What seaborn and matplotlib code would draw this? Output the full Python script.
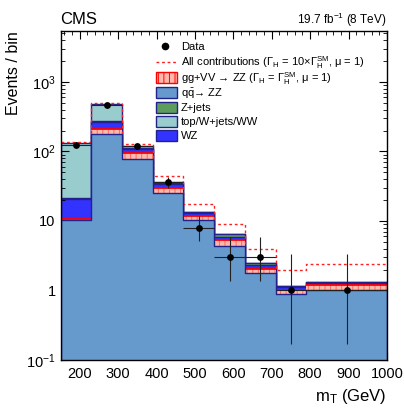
import numpy as np
import matplotlib
matplotlib.use("Agg")
import matplotlib.pyplot as plt
import seaborn as sns
from matplotlib.lines import Line2D
from matplotlib.patches import Rectangle
from matplotlib.ticker import FixedLocator, FixedFormatter, MultipleLocator

# ---------------- data ----------------
bin_edges = [150, 230, 310, 390, 470, 550, 630, 710, 790, 1000]
bin_centers = [190, 270, 350, 430, 510, 590, 670, 750, 895]

qqZZ   = [10.2, 180.0, 79.0, 25.4, 10.2, 4.4, 1.80, 0.90, 1.03]
ggVV   = [0.6,  32.0, 17.0, 4.0, 1.5, 1.0, 0.22, 0.13, 0.16]
WZ     = [10.0, 57.0, 13.0, 4.2, 1.5, 0.45, 0.28, 0.10, 0.11]
Zjets  = [0.5,  5.0,  2.0,  1.5, 0.2, 0.70, 0.19, 0.02, 0.02]
topWW  = [110.0, 206.0, 8.0, 1.5, 0.05, 0.05, 0.01, 0.01, 0.01]

all_contrib = [136, 500, 126, 44, 17.7, 9.1, 3.9, 1.96, 2.42]

data_y  = [125, 470, 120, 36, 8, 3, 3, 1, 1]
data_lo = [11.0, 21.5, 10.9, 5.97, 2.77, 1.63, 1.63, 0.83, 0.83]
data_hi = [12.2, 22.7, 12.0, 7.06, 3.94, 2.92, 2.92, 2.30, 2.30]

x_ticks = [200, 300, 400, 500, 600, 700, 800, 900, 1000]
y_ticks = [0.1, 1, 10, 100, 1000]
y_tick_labels = ["10$^{-1}$", "1", "10", "10$^{2}$", "10$^{3}$"]

legend_labels = [
    "Data",
    "All contributions ($\\Gamma_{\\mathrm{H}}$ = 10$\\times\\Gamma_{\\mathrm{H}}^{\\mathrm{SM}}$, μ = 1)",
    "gg+VV → ZZ ($\\Gamma_{\\mathrm{H}}$ = $\\Gamma_{\\mathrm{H}}^{\\mathrm{SM}}$, μ = 1)",
    "q$\\bar{\\mathrm{q}}$→ ZZ",
    "Z+jets",
    "top/W+jets/WW",
    "WZ",
]

# ---------------- style ----------------
plt.rcParams["font.family"] = ["Liberation Sans", "DejaVu Sans"]
plt.rcParams["mathtext.fontset"] = "custom"
plt.rcParams["mathtext.rm"] = "Liberation Sans"
plt.rcParams["mathtext.it"] = "Liberation Sans:italic"
plt.rcParams["mathtext.bf"] = "Liberation Sans:bold"
plt.rcParams["hatch.linewidth"] = 0.7

C_QQ = "#6699CC"
C_GG = "#FFB8AC"
C_HATCH = "#FF6A5A"
C_WZ = "#3333FF"
C_ZJ = "#5E9C5E"
C_TOP = "#99CCCC"
EDGE = "#22228A"
C_RED = "#FF2020"

fig = plt.figure(figsize=(4.04, 4.09), dpi=100)
ax = fig.add_axes([60.5 / 404, 1 - 360 / 409, (387 - 60.5) / 404, (360 - 31) / 409])
ax.set_yscale("log")

qq = np.array(qqZZ)
c_gg = qq + np.array(ggVV)
c_wz = c_gg + np.array(WZ)
c_zj = c_wz + np.array(Zjets)
c_top = c_zj + np.array(topWW)

layers = [
    (c_top, C_TOP, EDGE, None, 1.0),
    (c_zj, C_ZJ, EDGE, None, 1.0),
    (c_wz, C_WZ, EDGE, None, 1.0),
    (c_gg, C_GG, C_HATCH, "|||", 0.0),
]
for vals, fc, ec, hatch, lw in layers:
    n_before = len(ax.collections)
    sns.histplot(x=bin_centers, weights=vals, bins=bin_edges, element="step",
                 fill=True, ax=ax, color=fc, alpha=1.0, edgecolor=ec,
                 linewidth=lw)
    for coll in ax.collections[n_before:]:
        coll.set_facecolor(fc)
        coll.set_edgecolor(ec)
        coll.set_linewidth(lw)
        if hatch:
            coll.set_hatch(hatch)

# red line on top of the gg band (horizontal segments only)
ax.hlines(c_gg, bin_edges[:-1], bin_edges[1:], colors="red", linewidth=1.3, zorder=2)

n_before = len(ax.collections)
sns.histplot(x=bin_centers, weights=qq, bins=bin_edges, element="step",
             fill=True, ax=ax, color=C_QQ, alpha=1.0, edgecolor=EDGE, linewidth=1.0)
for coll in ax.collections[n_before:]:
    coll.set_facecolor(C_QQ)
    coll.set_edgecolor(EDGE)
    coll.set_zorder(2.1)

# dashed "all contributions"
sns.histplot(x=bin_centers, weights=all_contrib, bins=bin_edges, element="step",
             fill=False, ax=ax, color=C_RED, linestyle=(0, (2, 2)), linewidth=1.0)

# data with error bars
half_w = (np.diff(bin_edges) / 2.0)
ax.errorbar(bin_centers, data_y, yerr=[data_lo, data_hi], xerr=half_w,
            fmt="none", ecolor="#222222", elinewidth=0.8, capsize=0, zorder=5)
sns.scatterplot(x=bin_centers, y=data_y, ax=ax, color="black", s=24,
                edgecolor="black", linewidth=0, zorder=6)

# ---------------- axes ----------------
ax.set_xlim(150, 1000)
ax.set_ylim(0.1, 5400)
ax.xaxis.set_major_locator(FixedLocator(x_ticks))
ax.xaxis.set_minor_locator(MultipleLocator(20))
ax.yaxis.set_major_locator(FixedLocator(y_ticks))
ax.yaxis.set_major_formatter(FixedFormatter(y_tick_labels))
ax.tick_params(which="both", direction="in", top=True, right=True, labelsize=10.5)
ax.tick_params(which="major", length=6, width=0.8)
ax.tick_params(which="minor", length=3, width=0.6)
ax.tick_params(axis="x", pad=5)
for s in ax.spines.values():
    s.set_linewidth(1.0)
    s.set_zorder(10)

ax.set_xlabel("m$_{\\mathrm{T}}$ (GeV)", fontsize=12, loc="right")
ax.set_ylabel("Events / bin", fontsize=11.5, loc="top")

fig.text(60.5 / 404, 1 - 24 / 409, "CMS", fontsize=12, ha="left", va="baseline")
fig.text(387 / 404, 1 - 24 / 409, "19.7 fb$^{-1}$ (8 TeV)", fontsize=8.5,
         ha="right", va="baseline")

# ---------------- manual legend ----------------
W, H = 404.0, 409.0
def fx(px):
    return px / W
def fy(py):
    return 1 - py / H

row_y = [46.0, 61.8, 77.6, 92.6, 107.0, 121.2, 135.4]
hx0, hx1 = 155.5, 176.5
ph = 11.0
for i, (lab, yc) in enumerate(zip(legend_labels, row_y)):
    if i == 0:
        fig.add_artist(Line2D([fx(165)], [fy(yc)], marker="o", color="black",
                              markersize=4.5, linestyle="none",
                              transform=fig.transFigure))
    elif i == 1:
        fig.add_artist(Line2D([fx(hx0), fx(hx1)], [fy(yc), fy(yc)], color=C_RED,
                              linestyle=(0, (2, 2)), linewidth=1.0,
                              transform=fig.transFigure))
    else:
        fc, ec, hatch = {
            2: (C_GG, "red", "|||"),
            3: (C_QQ, EDGE, None),
            4: (C_ZJ, EDGE, None),
            5: (C_TOP, EDGE, None),
            6: (C_WZ, EDGE, None),
        }[i]
        r = Rectangle((fx(hx0), fy(yc + ph / 2)), fx(hx1) - fx(hx0), ph / H,
                      facecolor=fc, edgecolor=ec, linewidth=1.0, hatch=hatch,
                      transform=fig.transFigure)
        fig.add_artist(r)
    fig.text(fx(181), fy(yc + 4.0), lab, fontsize=8.0, ha="left", va="baseline")

fig.savefig("out.png", dpi=100)
